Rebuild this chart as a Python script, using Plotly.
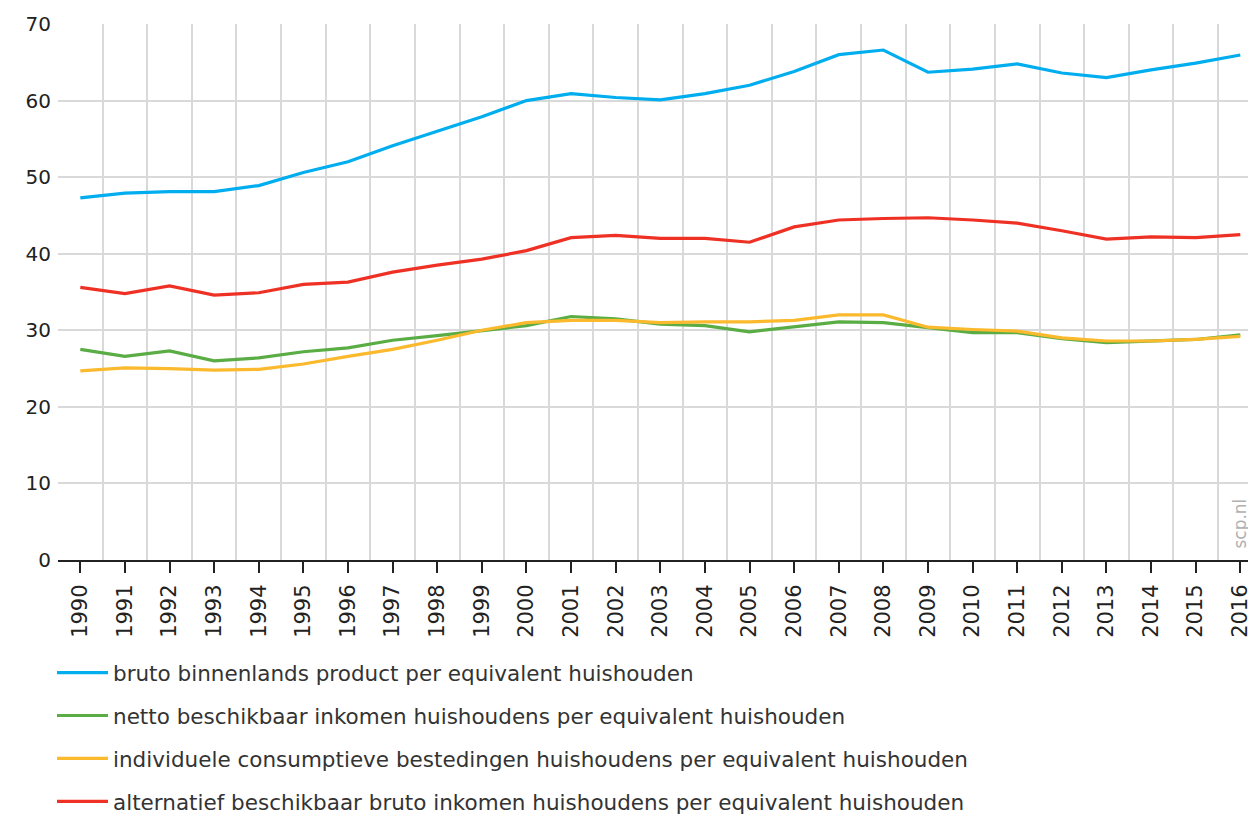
import plotly.graph_objects as go

years = list(range(1990, 2017))

bbp = [47.3, 47.9, 48.1, 48.1, 48.9, 50.6, 52.0, 54.1, 56.0, 57.9, 60.0, 60.9, 60.4, 60.1,
       60.9, 62.0, 63.8, 66.0, 66.6, 63.7, 64.1, 64.8, 63.6, 63.0, 64.0, 64.9, 65.95]
netto = [27.5, 26.6, 27.3, 26.0, 26.4, 27.2, 27.7, 28.7, 29.3, 30.0, 30.6, 31.8, 31.5, 30.8,
         30.6, 29.8, 30.5, 31.1, 31.0, 30.3, 29.7, 29.7, 28.9, 28.4, 28.6, 28.8, 29.4]
consumptie = [24.7, 25.1, 25.0, 24.8, 24.9, 25.6, 26.6, 27.5, 28.7, 30.0, 31.0, 31.3, 31.3, 31.0,
              31.1, 31.1, 31.3, 32.0, 32.0, 30.4, 30.1, 29.9, 29.0, 28.6, 28.6, 28.8, 29.2]
alternatief = [35.6, 34.8, 35.8, 34.6, 34.9, 36.0, 36.3, 37.6, 38.5, 39.3, 40.4, 42.1, 42.4, 42.0,
               42.0, 41.5, 43.5, 44.4, 44.6, 44.7, 44.4, 44.0, 43.0, 41.9, 42.2, 42.1, 42.5]

series_names = [
    "bruto binnenlands product per equivalent huishouden",
    "netto beschikbaar inkomen huishoudens per equivalent huishouden",
    "individuele consumptieve bestedingen huishoudens per equivalent huishouden",
    "alternatief beschikbaar bruto inkomen huishoudens per equivalent huishouden",
]
series_values = [bbp, netto, consumptie, alternatief]
series_colors = ["#00aeef", "#5aac44", "#fbb92d", "#ee3124"]

y_ticks = [0, 10, 20, 30, 40, 50, 60, 70]

FONT = "DejaVu Sans"

fig = go.Figure()
for i, (name, vals, col) in enumerate(zip(series_names, series_values, series_colors)):
    fig.add_trace(go.Scatter(
        x=years, y=vals, name=name, mode="lines",
        line=dict(color=col, width=3.2),
        legendgroup=f"g{i}",
    ))

fig.update_layout(
    width=1256, height=823,
    margin=dict(l=50, r=8, t=16, b=271),
    plot_bgcolor="white", paper_bgcolor="white",
    font=dict(family=FONT, color="#2b2b2b"),
    showlegend=True,
    legend=dict(
        x=-0.005, xanchor="left", y=0.2174, yanchor="top", yref="container",
        font=dict(size=21.5, color="#333333", family=FONT),
        tracegroupgap=12, itemwidth=51, bgcolor="rgba(0,0,0,0)",
    ),
    xaxis=dict(
        range=[1989.5, 1989.5 + 1198 / 44.615],
        tickmode="array", tickvals=years, ticktext=[str(y) for y in years],
        tickangle=-90, tickfont=dict(size=21, color="#222222", family=FONT),
        ticks="outside", ticklen=11, tickwidth=2, tickcolor="#222222",
        ticklabelstandoff=3, automargin=False,
        showgrid=False, showline=True, linecolor="#222222", linewidth=2,
        zeroline=False,
        minor=dict(tick0=1989.5, dtick=1, showgrid=True, gridcolor="#d9d9d9", gridwidth=2, ticks=""),
    ),
    yaxis=dict(
        range=[0, 70], tickmode="array", tickvals=y_ticks,
        tickfont=dict(size=20, color="#222222", family=FONT), automargin=False,
        showgrid=True, gridcolor="#d9d9d9", gridwidth=2,
        zeroline=False, showline=False, ticks="", ticklabelstandoff=6,
    ),
)

fig.add_annotation(
    x=2016, y=4.8, xref="x", yref="y", text="scp.nl", showarrow=False,
    textangle=-90, font=dict(size=17, color="#b0b0b0", family=FONT),
    xanchor="center", yanchor="middle",
)

fig.write_html("out.html")
